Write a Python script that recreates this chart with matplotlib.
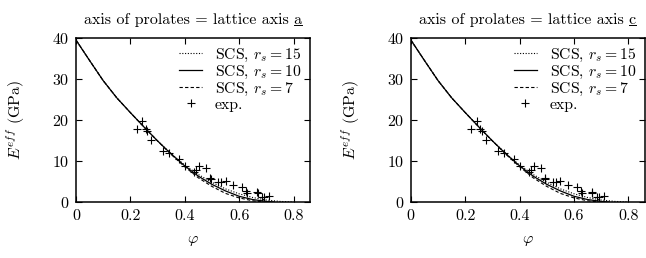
import matplotlib
matplotlib.use("Agg")
import matplotlib.pyplot as plt
from matplotlib.lines import Line2D
import numpy as np

plt.rcParams['font.family'] = 'serif'
plt.rcParams['font.serif'] = ['cmr10']
plt.rcParams['mathtext.fontset'] = 'cm'
plt.rcParams['axes.formatter.use_mathtext'] = True
plt.rcParams['font.size'] = 11.5

# SCS curves
phi_15 = [0, 0.05, 0.1, 0.15, 0.2, 0.25, 0.3, 0.35, 0.4, 0.45, 0.5, 0.55, 0.6, 0.65, 0.7, 0.75, 0.8]
E_15 = [39.5, 34.5, 29.6, 25.4, 21.8, 18.3, 14.9, 11.8, 9.0, 6.7, 4.8, 3.2, 2.0, 1.1, 0.5, 0.15, 0.0]
phi_10 = [0, 0.05, 0.1, 0.15, 0.2, 0.25, 0.3, 0.35, 0.4, 0.45, 0.5, 0.55, 0.6, 0.65, 0.7, 0.73]
E_10 = [39.5, 34.5, 29.6, 25.4, 21.8, 18.3, 14.9, 11.7, 8.8, 6.3, 4.3, 2.7, 1.4, 0.6, 0.15, 0.0]
phi_7 = [0, 0.05, 0.1, 0.15, 0.2, 0.25, 0.3, 0.35, 0.4, 0.45, 0.5, 0.55, 0.6, 0.65, 0.69]
E_7 = [39.5, 34.5, 29.6, 25.4, 21.8, 18.3, 14.9, 11.6, 8.6, 5.9, 3.8, 2.1, 1.0, 0.3, 0.0]

# experimental points
phi_exp = [0.223, 0.244, 0.256, 0.26, 0.275, 0.319, 0.343, 0.38, 0.402, 0.435, 0.44, 0.452,
           0.479, 0.492, 0.495, 0.522, 0.535, 0.55, 0.578, 0.611, 0.627, 0.63, 0.665, 0.668,
           0.683, 0.693, 0.709]
E_exp = [17.7, 19.8, 17.8, 17.2, 15.1, 12.5, 12.0, 10.6, 8.7, 7.4, 7.8, 8.8,
         8.2, 5.9, 5.6, 4.9, 4.8, 5.1, 4.1, 3.7, 2.7, 2.3, 2.4, 2.1,
         1.2, 1.2, 1.4]

axis_letters = ['a', 'c']
lefts = [0.1176, 0.636]

fig = plt.figure(figsize=(6.46, 2.58), dpi=100)
titles = []
for i in range(2):
    ax = fig.add_axes([lefts[i], 0.217, 0.362, 0.636])
    ax.plot(phi_15, E_15, color='k', lw=0.8, ls=(0, (1, 1.5)), label=r'SCS, $r_s = 15$')
    ax.plot(phi_10, E_10, color='k', lw=0.9, ls='-', label=r'SCS, $r_s = 10$')
    ax.plot(phi_7, E_7, color='k', lw=0.8, ls=(0, (3, 2)), label=r'SCS, $r_s = 7$')
    ax.plot(phi_exp, E_exp, ls='none', marker='+', ms=5.5, mew=0.8, color='k', label='exp.')
    ax.set_xlim(0, 0.86)
    ax.set_ylim(0, 40)
    ax.set_xticks([0, 0.2, 0.4, 0.6, 0.8])
    ax.set_xticklabels(['0', '0.2', '0.4', '0.6', '0.8'])
    ax.set_yticks([0, 10, 20, 30, 40])
    ax.tick_params(direction='in', top=True, right=True, length=4, width=0.8, pad=5)
    for s in ax.spines.values():
        s.set_linewidth(1.1)
    ax.set_xlabel(r'$\varphi$', labelpad=8)
    ax.set_ylabel(r'$E^{eff}$ (GPa)', labelpad=18)
    t = ax.set_title('axis of prolates = lattice axis ' + axis_letters[i], fontsize=11.5, pad=10)
    titles.append(t)
    ax.legend(loc='upper right', frameon=False, fontsize=11.3, handlelength=1.5,
              handletextpad=0.8, labelspacing=0.0, borderaxespad=0.25, borderpad=0.3)

# underline the lattice axis letter in each title
fig.canvas.draw()
r = fig.canvas.get_renderer()
for i, t in enumerate(titles):
    bb = t.get_window_extent(r)
    tmp = fig.text(0, 0, axis_letters[i], fontsize=11.5)
    w = tmp.get_window_extent(r).width
    tmp.remove()
    x1 = bb.x1 / fig.bbox.width
    x0 = (bb.x1 - w) / fig.bbox.width
    y = (bb.y0 + 2) / fig.bbox.height
    fig.add_artist(Line2D([x0, x1], [y, y], color='k', lw=0.7, transform=fig.transFigure))

fig.savefig('out.png', dpi=100)
